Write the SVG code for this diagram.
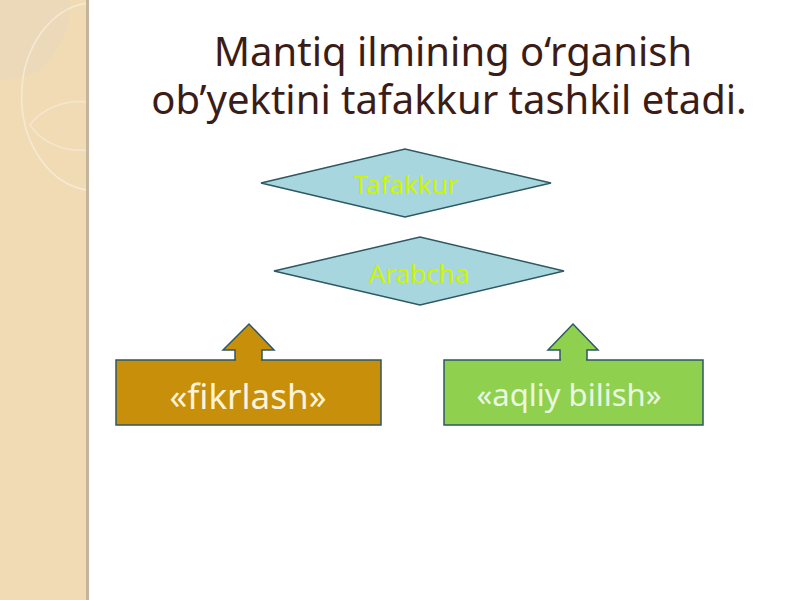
<svg xmlns="http://www.w3.org/2000/svg" width="800" height="600" viewBox="0 0 800 600">
<style>
.title{font-family:"Noto Sans","Open Sans",sans-serif;font-size:40px;fill:#3b1c17;text-anchor:middle}
.dlabel{font-family:"Noto Sans","Open Sans",sans-serif;font-size:26px;fill:#ccf500;text-anchor:middle;dominant-baseline:central}
.blabel{font-family:"Noto Sans","Open Sans",sans-serif;text-anchor:middle;dominant-baseline:central}
.diamond{fill:#a8d6df;stroke:#2c5863;stroke-width:1.5}
.box{stroke:#2c5863;stroke-width:1.5}
</style>
<rect x="0" y="0" width="800" height="600" fill="#ffffff"/>
<g id="sidebar">
<rect x="0" y="0" width="88" height="600" fill="#f1dbb5"/>
<path d="M0 0 L70 0 Q72 40 40 70 Q20 80 0 80 Z" fill="#e4d6bf" opacity="0.45"/>
<path d="M88 3 A 74 94 0 0 0 88 190" fill="none" stroke="#f6ead6" stroke-width="1.5"/>
<path d="M88 102 A 58 48 0 0 0 30 125 A 58 48 0 0 0 88 150" fill="none" stroke="#f4e6cf" stroke-width="1.5"/>
<rect x="86" y="0" width="3" height="600" fill="#c5b39d"/>
</g>
<g id="title">
<text class="title" x="453" y="66">Mantiq ilmining o‘rganish</text>
<text class="title" x="449" y="114">ob’yektini tafakkur tashkil etadi.</text>
</g>
<g id="connectors">
<path class="box" fill="#c8900a" d="M223 350 L249 324 L274 350 L262 350 L262 361 L235 361 L235 350 Z"/>
<path class="box" fill="#8fd14f" d="M548 350 L573 324 L598 350 L587 350 L587 361 L560 361 L560 350 Z"/>
</g>
<g id="tafakkur">
<polygon class="diamond" points="261,183 405,149 551,183 405,217"/>
<text class="dlabel" x="406" y="184">Tafakkur</text>
</g>
<g id="arabcha">
<polygon class="diamond" points="274,271 420,237 564,271 420,305"/>
<text class="dlabel" x="419" y="273">Arabcha</text>
</g>
<g id="fikrlash">
<rect class="box" x="116" y="360" width="265" height="65" fill="#c8900a"/>
<rect x="236" y="359" width="25" height="3" fill="#c8900a"/>
<text class="blabel" x="248" y="395" fill="#fff3dc" style="font-size:35px">«fikrlash»</text>
</g>
<g id="aqliy">
<rect class="box" x="444" y="360" width="259" height="65" fill="#8fd14f"/>
<rect x="561" y="359" width="25" height="3" fill="#8fd14f"/>
<text class="blabel" x="569" y="394" fill="#eaf8e2" style="font-size:31px">«aqliy bilish»</text>
</g>
</svg>
